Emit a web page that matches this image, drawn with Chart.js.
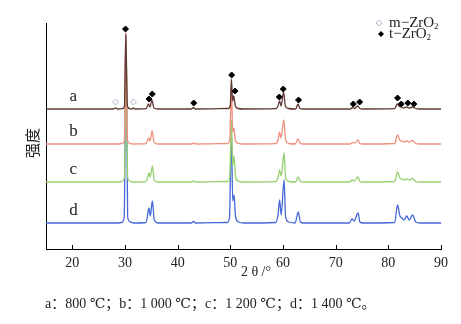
<!DOCTYPE html>
<html>
<head>
<meta charset="utf-8">
<script src="https://cdn.jsdelivr.net/npm/chart.js@4/dist/chart.umd.min.js"></script>
<style>
  html, body { margin: 0; padding: 0; background: #fff; }
  canvas { display: block; }
</style>
</head>
<body>
<canvas id="xrd" width="461" height="324"></canvas>
<script>
// XRD patterns of ZrO2 calcined at four temperatures.
// Each pattern: [2θ (°), intensity above its own baseline (a.u.)]
const patternA = [
  [15,0],[27.8,0],[28.2,1],[28.6,0],[29.5,0.3],[29.9,3],[30.15,75],[30.45,3],[30.9,0.3],[31.3,0],[31.6,1],[31.9,0],
  [34.0,0.3],[34.45,5],[34.75,2],[35.1,9],[35.5,1],[36.2,0],[42.6,0],[43.0,1.5],[43.4,0],
  [49.6,0.5],[50.0,4],[50.2,30],[50.45,8],[50.65,13],[50.95,3],[51.5,0.5],[52.5,0],
  [58.6,0.3],[59.05,3],[59.35,8],[59.65,3],[60.1,17],[60.45,3],[61.0,0.5],[62.4,0],[62.85,5],[63.2,0.5],[63.8,0],
  [72.8,0],[73.2,1.5],[73.6,0.5],[74.2,3],[74.6,0.5],[75.2,0],
  [81.2,0.3],[81.7,5],[82.1,2.5],[82.5,2],[82.9,1],[83.5,2],[83.9,0.8],[84.6,2],[85.2,0.5],[86,0],[90,0]
];
const patternB = [
  [15,0],[28.5,0],[29.5,0.5],[29.9,5],[30.15,113],[30.45,5],[30.9,0.5],[31.5,0],
  [34.0,0.3],[34.5,6],[34.75,3],[35.15,13],[35.5,2],[36.2,0],[42.7,0],[43.05,1],[43.4,0],
  [49.5,0.5],[49.9,5],[50.2,59],[50.45,12],[50.65,16],[50.95,4],[51.5,0.7],[52.5,0],
  [58.6,0.3],[59.05,4],[59.35,12],[59.6,6],[60.15,24],[60.5,4],[61.1,0.5],[62.3,0],[62.85,5],[63.3,0.5],[63.9,0],
  [72.7,0],[73.2,1.5],[73.6,1],[74.2,4],[74.6,0.5],[75.2,0],
  [81.2,0.5],[81.75,9],[82.2,4],[82.6,3],[83.0,2],[83.5,3],[83.9,2],[84.6,3.5],[85.2,0.5],[86,0],[90,0]
];
const patternC = [
  [15,0],[28.5,0],[29.4,0.5],[29.9,5],[30.2,142],[30.5,5],[31.0,0.5],[31.5,0],
  [34.0,0.3],[34.55,9],[34.8,5],[35.2,16],[35.55,2],[36.2,0],[42.7,0],[43.0,1],[43.4,0],
  [49.5,0.5],[49.9,5],[50.2,62],[50.45,16],[50.7,26],[51.0,5],[51.6,0.7],[52.5,0],
  [58.6,0.3],[59.1,5],[59.35,12],[59.65,6],[60.2,29],[60.5,4],[61.1,0.5],[62.4,0],[62.9,5],[63.3,0.5],[63.9,0],
  [72.7,0],[73.15,2],[73.5,1],[74.2,5],[74.6,0.5],[75.2,0],
  [81.2,0.5],[81.75,10],[82.2,4],[82.6,3],[83.1,2],[83.5,3],[84.0,2],[84.6,3.5],[85.2,0.5],[86,0],[90,0]
];
const patternD = [
  [15,0],[28.5,0],[29.4,0.5],[29.85,6],[30.2,187],[30.5,6],[31.0,1],[31.6,0],
  [34.0,0.5],[34.55,15],[34.8,7],[35.2,22],[35.55,3],[36.3,0],[42.6,0],[43.0,1.5],[43.4,0],
  [49.4,0.5],[49.85,6],[50.2,93],[50.45,22],[50.7,28],[51.0,6],[51.6,1],[52.5,0],
  [58.6,0.5],[59.05,8],[59.35,23],[59.65,8],[60.2,43],[60.5,6],[61.1,1],[62.3,0],[62.9,11],[63.3,1],[63.9,0],
  [72.6,0],[73.1,4],[73.5,2],[74.25,10],[74.6,1],[75.2,0],
  [81.2,0.5],[81.75,18],[82.2,7],[82.6,5],[83.0,3],[83.5,7],[83.95,3],[84.6,8],[85.2,1],[86,0],[90,0]
];

// Vertical offsets used to stack the four patterns
const patternNames = ['a', 'b', 'c', 'd'];
const patternOffsets = [140, 105, 67, 26];
const patternColors = ['#5e3a32', '#f0907c', '#96d070', '#4468d8'];

// Phase reflections marked above pattern a: [2θ, height]
const tPhasePeaks = [
  [30.1,220],[34.56,150],[35.18,155],[43.05,146],[50.25,174],[50.9,158],[59.3,152],[60.05,160],
  [62.95,149],[73.35,145],[74.55,147],[81.75,151],[82.45,145],[83.7,146],[84.85,145]
];
const mPhasePeaks = [[28.2,147],[31.6,147]];

const xTickValues = [20, 30, 40, 50, 60, 70, 80, 90];
const caption = 'a：800 ℃；b：1 000 ℃；c：1 200 ℃；d：1 400 ℃。';

const serif = '"Liberation Serif", "DejaVu Serif", serif';
const cjk = '"Noto Sans CJK SC", sans-serif';

const stacked = (pts, off) => pts.map(([x, y]) => ({ x, y: y + off }));
const patterns = [patternA, patternB, patternC, patternD];

const datasets = patterns.map((p, i) => ({
  type: 'line',
  label: patternNames[i],
  data: stacked(p, patternOffsets[i]),
  borderColor: patternColors[i],
  borderWidth: 1.3,
  pointRadius: 0,
  cubicInterpolationMode: 'monotone',
  fill: false,
  order: i + 1
}));
datasets.push({
  type: 'scatter',
  label: 't-ZrO2',
  data: tPhasePeaks.map(([x, y]) => ({ x, y })),
  pointStyle: 'rectRot',
  pointRadius: 3,
  backgroundColor: '#000',
  borderColor: '#000',
  borderWidth: 1,
  order: 0
});
datasets.push({
  type: 'scatter',
  label: 'm-ZrO2',
  data: mPhasePeaks.map(([x, y]) => ({ x, y })),
  pointStyle: 'rectRot',
  pointRadius: 3,
  backgroundColor: '#fff',
  borderColor: '#a9b6c6',
  borderWidth: 1,
  order: 0
});

// Text, inward tick marks and legend drawn on top of the plot
const decorations = {
  id: 'decorations',
  afterDraw(chart) {
    const { ctx, scales: { x, y } } = chart;
    ctx.save();
    // inward x ticks
    ctx.strokeStyle = '#000';
    ctx.lineWidth = 1;
    xTickValues.forEach(v => {
      const px = Math.round(x.getPixelForValue(v)) + 0.5;
      ctx.beginPath();
      ctx.moveTo(px, y.bottom);
      ctx.lineTo(px, y.bottom - 4);
      ctx.stroke();
    });
    // pattern labels
    ctx.fillStyle = '#222';
    ctx.font = '17px ' + serif;
    ctx.textAlign = 'center';
    ctx.textBaseline = 'middle';
    patternNames.forEach((n, i) => {
      ctx.fillText(n, x.getPixelForValue(20.2), y.getPixelForValue(patternOffsets[i] + 12));
    });
    // x title
    ctx.font = '14px ' + serif;
    ctx.fillText('2 θ /°', 256, 272);
    // y title
    ctx.save();
    ctx.translate(32, 143);
    ctx.rotate(-Math.PI / 2);
    ctx.font = '15px ' + cjk;
    ctx.fillText('强度', 0, 0);
    ctx.restore();
    // legend
    const legend = [['m', 23, false], ['t', 34, true]];
    legend.forEach(([ph, ly, filled]) => {
      const cx = filled ? 381 : 379;
      ctx.beginPath();
      ctx.moveTo(cx, ly - 3); ctx.lineTo(cx + 3, ly); ctx.lineTo(cx, ly + 3); ctx.lineTo(cx - 3, ly); ctx.closePath();
      if (filled) { ctx.fillStyle = '#000'; ctx.fill(); }
      else { ctx.fillStyle = '#fff'; ctx.fill(); ctx.strokeStyle = '#a9b6c6'; ctx.stroke(); }
      ctx.fillStyle = '#222';
      ctx.textAlign = 'left';
      ctx.font = '15px ' + serif;
      const main = ph + '−ZrO';
      ctx.fillText(main, 389, ly);
      const w = ctx.measureText(main).width;
      ctx.font = '9px ' + serif;
      ctx.fillText('2', 389 + w, ly + 4);
    });
    // caption
    ctx.font = '14px ' + serif + ', ' + cjk;
    ctx.fillStyle = '#222';
    ctx.textAlign = 'left';
    ctx.fillText(caption, 45, 304);
    ctx.restore();
  }
};

new Chart(document.getElementById('xrd'), {
  data: { datasets },
  options: {
    responsive: false,
    animation: false,
    layout: { padding: { left: 46, right: 20, top: 23, bottom: 55 } },
    plugins: { legend: { display: false }, tooltip: { enabled: false } },
    scales: {
      x: {
        type: 'linear',
        min: 15,
        max: 90,
        afterBuildTicks: s => { s.ticks = xTickValues.map(v => ({ value: v })); },
        afterFit: s => { s.height = 20; },
        grid: { display: false, drawTicks: false },
        border: { display: true, color: '#000', width: 1 },
        ticks: { color: '#222', padding: 6, maxRotation: 0, font: { family: serif, size: 14 } }
      },
      y: {
        type: 'linear',
        min: 0,
        max: 226,
        afterFit: s => { s.width = 0; },
        grid: { display: false, drawTicks: false },
        border: { display: true, color: '#000', width: 1 },
        ticks: { display: false }
      }
    }
  },
  plugins: [decorations]
});
</script>
</body>
</html>
